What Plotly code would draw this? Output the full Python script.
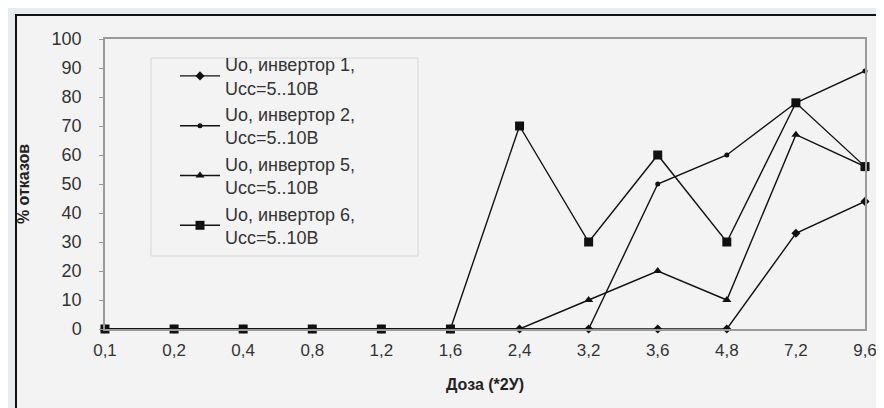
import plotly.graph_objects as go

doses = ["0,1", "0,2", "0,4", "0,8", "1,2", "1,6", "2,4", "3,2", "3,6", "4,8", "7,2", "9,6"]
inv1 = [0, 0, 0, 0, 0, 0, 0, 0, 0, 0, 33, 44]
inv2 = [0, 0, 0, 0, 0, 0, 0, 0, 50, 60, 78, 89]
inv5 = [0, 0, 0, 0, 0, 0, 0, 10, 20, 10, 67, 56]
inv6 = [0, 0, 0, 0, 0, 0, 70, 30, 60, 30, 78, 56]
names = ["Uo, инвертор 1,<br>Ucc=5..10В", "Uo, инвертор 2,<br>Ucc=5..10В",
         "Uo, инвертор 5,<br>Ucc=5..10В", "Uo, инвертор 6,<br>Ucc=5..10В"]
y_ticks = [0, 10, 20, 30, 40, 50, 60, 70, 80, 90, 100]

W, H = 884, 408
L, R, T, B = 97, 857, 31, 321

def px(x):
    return (x - L) / (R - L)

def py(y):
    return (B - y) / (B - T)

fig = go.Figure()
ink = "#111111"
line = dict(color=ink, width=1.4)
specs = [(inv1, "diamond", 7), (inv2, "circle", 5), (inv5, "triangle-up", 8), (inv6, "square", 9)]
for i, (vals, sym, size) in enumerate(specs):
    fig.add_trace(go.Scatter(x=doses, y=vals, name=names[i], mode="lines+markers",
                             line=line, marker=dict(symbol=sym, size=size, color=ink),
                             cliponaxis=False))

# outer chart frame
fig.add_shape(type="rect", xref="paper", yref="paper",
              x0=px(8), x1=px(880), y0=py(420), y1=py(7),
              fillcolor="#f3f3f3", line=dict(color=ink, width=2), layer="below")
# legend frame
fig.add_shape(type="rect", xref="paper", yref="paper",
              x0=px(143), x1=px(410), y0=py(248), y1=py(50),
              fillcolor="rgba(0,0,0,0)", line=dict(color="#d6d6d6", width=1), layer="below")

font = "Liberation Sans, Arial, sans-serif"
fig.update_layout(
    width=W, height=H,
    margin=dict(l=L, r=W - R, t=T, b=H - B),
    paper_bgcolor="#e8ecef",
    plot_bgcolor="rgba(0,0,0,0)",
    font=dict(family=font, size=14, color="#222222"),
    showlegend=True,
    legend=dict(x=px(167), y=py(38), xanchor="left", yanchor="top",
                bgcolor="rgba(0,0,0,0)", borderwidth=0, itemwidth=40,
                tracegroupgap=0,
                font=dict(size=18, color="#333333")),
    xaxis=dict(type="category", range=[0, len(doses) - 1], showgrid=False,
               showline=True, linecolor="#9a9a9a", linewidth=1.5, mirror=True,
               ticks="", ticklabelstandoff=5, tickfont=dict(size=17, color="#333333"),
               title=dict(text="<b>Доза (*2У)</b>", font=dict(size=16, color="#222222"),
                          standoff=20),
               zeroline=False),
    yaxis=dict(range=[0, 100], tickvals=y_ticks, showgrid=False, zeroline=False,
               showline=True, linecolor="#9a9a9a", linewidth=1.5, mirror=True,
               ticks="outside", ticklen=4, tickcolor="#9a9a9a", ticklabelstandoff=14,
               tickfont=dict(size=18, color="#333333"),
               title=dict(text="<b>% отказов</b>", font=dict(size=16, color="#222222"),
                          standoff=18)),
)

fig.write_html("out.html")
